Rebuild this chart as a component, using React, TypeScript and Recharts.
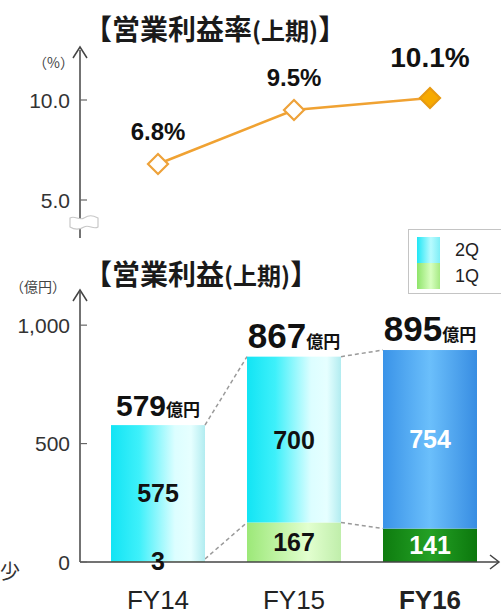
import React from 'react';
import { LineChart, Line, BarChart, Bar, XAxis, YAxis, LabelList, Legend } from 'recharts';

const categories = ['FY14', 'FY15', 'FY16'];
const marginRate = [6.8, 9.5, 10.1];
const q1Values = [3, 167, 141];
const q2Values = [575, 700, 754];
const totals = [579, 867, 895];
const rateTicks = [5, 10];
const profitTicks = [0, 500, 1000];
const seriesNames = { q1: '1Q', q2: '2Q' };

const rateData = categories.map((c, i) => ({ cat: c, rate: marginRate[i] }));
const profitData = categories.map((c, i) => ({ cat: c, q1: q1Values[i], q2: q2Values[i], total: totals[i] }));

const W = 501;
const H = 614;
const LAT = "'Liberation Sans', Arial, sans-serif";
const CJK = "'Noto Sans CJK JP', 'Noto Sans CJK SC', sans-serif";

// layout of bottom chart
const B_TOP = 292;
const B_BOTTOM_MARGIN = 12;
const X_AXIS_H = 40;
const Y_AXIS_W = 80;
const RIGHT = 3;
const PAD_L = 10;
const Y_MAX = 1140;
const PLOT_H = H - B_TOP - B_BOTTOM_MARGIN - X_AXIS_H;
const PPU = PLOT_H / Y_MAX;
const STEP = (W - Y_AXIS_W - RIGHT - PAD_L) / categories.length;

const fillFor = (key: string, i: number) => {
  if (i === 2) return key === 'q2' ? 'url(#gBlue)' : 'url(#gDark)';
  return key === 'q2' ? 'url(#gCyan)' : 'url(#gLight)';
};

const makeShape = (key: string) => (props: any) => {
  const { x, y, width, height, index } = props;
  const d = profitData[index];
  const next = profitData[index + 1];
  let conn = null;
  if (next) {
    const zeroY = key === 'q1' ? y + height : y + height + d.q1 * PPU;
    const nextTop = key === 'q1' ? next.q1 : next.q1 + next.q2;
    const ny = zeroY - nextTop * PPU;
    conn = (
      <line x1={x + width} y1={y} x2={x + STEP} y2={ny} stroke="#9a9a9a" strokeWidth={1.5} strokeDasharray="4 3" />
    );
  }
  return (
    <g>
      <rect x={x} y={y} width={width} height={Math.max(height, 0)} fill={fillFor(key, index)} />
      {conn}
    </g>
  );
};

const q1Shape = makeShape('q1');
const q2Shape = makeShape('q2');

const innerLabel = (props: any) => {
  const { x, y, width, height, value, index } = props;
  return (
    <text x={x + width / 2} y={y + height / 2} textAnchor="middle" dominantBaseline="central"
      fontFamily={LAT} fontWeight="bold" fontSize={25} fill={index === 2 ? '#ffffff' : '#111111'}>
      {value}
    </text>
  );
};

const totalLabel = (props: any) => {
  const { x, y, width, index } = props;
  const big = index === 0 ? 30 : 35;
  return (
    <text x={x + width / 2} y={y - 9} textAnchor="middle" fontFamily={LAT} fontWeight="bold" fill="#111">
      <tspan fontSize={big}>{totals[index]}</tspan>
      <tspan fontSize={17} fontFamily={CJK}>億円</tspan>
    </text>
  );
};

const rateLabel = (props: any) => {
  const { x, y, value, index } = props;
  const last = index === 2;
  return (
    <text x={x} y={y - (last ? 31 : 24)} textAnchor="middle" fontFamily={LAT} fontWeight="bold"
      fontSize={last ? 28 : 24} fill="#111">
      {value.toFixed(1)}%
    </text>
  );
};

const Diamond = (props: any) => {
  const { cx, cy, index } = props;
  const r = 10;
  const last = index === 2;
  return (
    <polygon key={'d' + index}
      points={`${cx},${cy - r} ${cx + r},${cy} ${cx},${cy + r} ${cx - r},${cy}`}
      fill={last ? '#f7aa00' : '#ffffff'} stroke={last ? '#e79a10' : '#eea23a'} strokeWidth={2.2} />
  );
};

const makeYTick = (fmt: (v: number) => string) => (props: any) => {
  const { x, y, payload } = props;
  return (
    <g>
      <text x={x} y={y} textAnchor="end" dominantBaseline="central" fontFamily={LAT} fontSize={21} fill="#333">
        {fmt(payload.value)}
      </text>
      <line x1={x + 10} x2={x + 17} y1={y} y2={y} stroke="#666" strokeWidth={1.2} />
    </g>
  );
};

const rateTick = makeYTick((v) => v.toFixed(1));
const profitTick = makeYTick((v) => v.toLocaleString('en-US'));

const XTick = (props: any) => {
  const { x, y, payload } = props;
  const bold = payload.value === 'FY16';
  return (
    <text x={x} y={y + 47} textAnchor="middle" fontFamily={LAT} fontSize={26}
      fontWeight={bold ? 'bold' : 'normal'} fill="#222">
      {payload.value}
    </text>
  );
};

const swatch: Record<string, string> = {
  q2: 'linear-gradient(to right, #1fe6f5, #b8fbff 60%, #7feef6)',
  q1: 'linear-gradient(to right, #8ee46a, #d8ffc0 60%, #a6ea84)',
};

const LegendBox = (props: any) => {
  const payload = (props.payload || []).slice().reverse();
  return (
    <div style={{ width: 100, height: 65, border: '1.5px solid #c4c4c4', background: '#fff', boxSizing: 'border-box', position: 'relative' }}>
      {payload.map((p: any, i: number) => (
        <div key={p.value} style={{ position: 'absolute', left: 8, top: 7 + i * 26, height: 26, display: 'flex', alignItems: 'center' }}>
          <div style={{ width: 23, height: 26, background: swatch[p.dataKey] }} />
          <span style={{ marginLeft: 15, fontFamily: LAT, fontSize: 18, color: '#222' }}>{p.value}</span>
        </div>
      ))}
    </div>
  );
};

export default function App() {
  return (
    <div style={{ position: 'absolute', left: 0, top: 0, width: W, height: H, background: '#fff', overflow: 'hidden' }}>
      <div style={{ position: 'absolute', left: 0, top: 0 }}>
        <LineChart width={W} height={H} data={rateData} margin={{ top: 50, right: RIGHT, bottom: 376, left: 0 }}>
          <XAxis dataKey="cat" hide height={0} padding={{ left: 78, right: 68 }} />
          <YAxis type="number" width={Y_AXIS_W} domain={[3.1, 12.5]} allowDataOverflow ticks={rateTicks}
            tickLine={false} tickSize={0} tickMargin={10} tick={rateTick}
            axisLine={{ stroke: '#444', strokeWidth: 1.5 }} />
          <Line dataKey="rate" stroke="#f0a232" strokeWidth={2.5} isAnimationActive={false}
            dot={Diamond} activeDot={false}>
            <LabelList dataKey="rate" content={rateLabel} />
          </Line>
        </LineChart>
      </div>
      <div style={{ position: 'absolute', left: 0, top: 0 }}>
        <BarChart width={W} height={H} data={profitData} margin={{ top: B_TOP, right: RIGHT, bottom: B_BOTTOM_MARGIN, left: 0 }} barSize={94}>
          <defs>
            <linearGradient id="gCyan" x1="0" y1="0" x2="1" y2="0">
              <stop offset="0" stopColor="#12e4f4" />
              <stop offset="0.3" stopColor="#3ef0fa" />
              <stop offset="0.68" stopColor="#dcfeff" />
              <stop offset="0.85" stopColor="#e6ffff" />
              <stop offset="1" stopColor="#b2ecf0" />
            </linearGradient>
            <linearGradient id="gLight" x1="0" y1="0" x2="1" y2="0">
              <stop offset="0" stopColor="#9ce878" />
              <stop offset="0.65" stopColor="#e2ffcf" />
              <stop offset="1" stopColor="#c0eeab" />
            </linearGradient>
            <linearGradient id="gBlue" x1="0" y1="0" x2="1" y2="0">
              <stop offset="0" stopColor="#3a93e8" />
              <stop offset="0.5" stopColor="#6bbffb" />
              <stop offset="1" stopColor="#388de2" />
            </linearGradient>
            <linearGradient id="gDark" x1="0" y1="0" x2="1" y2="0">
              <stop offset="0" stopColor="#0e7c0f" />
              <stop offset="0.5" stopColor="#24a025" />
              <stop offset="1" stopColor="#0c780d" />
            </linearGradient>
          </defs>
          <XAxis dataKey="cat" height={X_AXIS_H} padding={{ left: PAD_L, right: 0 }} tickLine={false}
            tickSize={0} tickMargin={0}
            tick={XTick} axisLine={{ stroke: '#444', strokeWidth: 1.5 }} interval={0} />
          <YAxis type="number" width={Y_AXIS_W} domain={[0, Y_MAX]} allowDataOverflow ticks={profitTicks}
            tickLine={false} tickSize={0} tickMargin={10} tick={profitTick}
            axisLine={{ stroke: '#444', strokeWidth: 1.5 }} />
          <Legend layout="horizontal" verticalAlign="middle" align="center" content={LegendBox}
            wrapperStyle={{ left: 408, top: 229, width: 100, height: 65 }} />
          <Bar dataKey="q1" name={seriesNames.q1} stackId="a" isAnimationActive={false} shape={q1Shape} minPointSize={3}>
            <LabelList dataKey="q1" content={innerLabel} />
          </Bar>
          <Bar dataKey="q2" name={seriesNames.q2} stackId="a" isAnimationActive={false} shape={q2Shape}>
            <LabelList dataKey="q2" content={innerLabel} />
            <LabelList dataKey="total" content={totalLabel} />
          </Bar>
        </BarChart>
      </div>
      <svg width={W} height={H} style={{ position: 'absolute', left: 0, top: 0, pointerEvents: 'none' }}>
        <text x={84} y={40} fontFamily={CJK} fontWeight="bold" fontSize={28} fill="#1a1a1a">
          【営業利益率<tspan fontSize={24}>(上期)</tspan>】
        </text>
        <text x={84} y={285} fontFamily={CJK} fontWeight="bold" fontSize={28} fill="#1a1a1a">
          【営業利益<tspan fontSize={24}>(上期)</tspan>】
        </text>
        <text x={33} y={68} fontFamily={CJK} fontSize={14} fill="#444">（%）</text>
        <text x={10} y={292} fontFamily={CJK} fontSize={14} fill="#444">（億円）</text>
        <text x={0} y={579} fontFamily={CJK} fontSize={20} fill="#333">少</text>
        <polyline points="73,58 80,47 87,58" fill="none" stroke="#444" strokeWidth={1.5} />
        <polyline points="73,301 80,290 87,301" fill="none" stroke="#444" strokeWidth={1.5} />
        <polyline points="490,555 499,562 490,569" fill="none" stroke="#444" strokeWidth={1.5} />
        <path d="M70,218 C75,215 79,221 84,218 S92,215 98,218 L98,227 C93,230 89,224 84,227 S75,230 70,227 Z"
          fill="#ffffff" stroke="#c8c8c8" strokeWidth={1.2} />
      </svg>
    </div>
  );
}
